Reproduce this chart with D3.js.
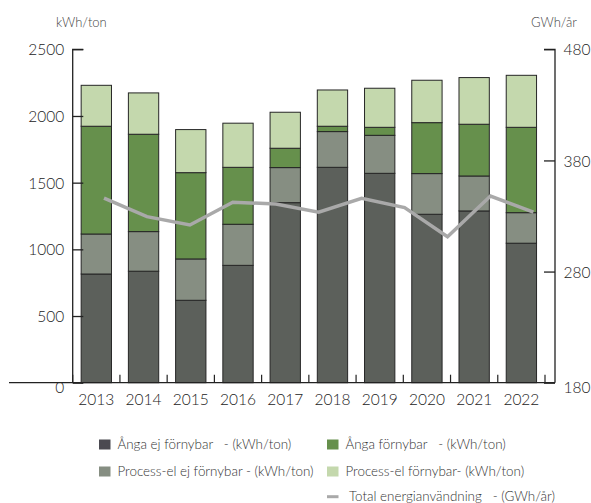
<!DOCTYPE html>
<html>
<head>
<meta charset="utf-8">
<script src="https://cdn.jsdelivr.net/npm/d3@7"></script>
<style>
  body { margin: 0; background: #fff; }
  svg text { font-family: Lato, "Open Sans", sans-serif; white-space: pre; font-weight: 300; }
</style>
</head>
<body>
<svg id="chart" width="591" height="503"></svg>
<script>
const years = ["2013","2014","2015","2016","2017","2018","2019","2020","2021","2022"];
const angaEj        = [815, 836, 618, 880, 1350, 1615, 1570, 1263, 1288, 1046];
const processElEj   = [300, 297, 310, 308,  263,  268,  285,  305,  262,  229];
const angaFornybar  = [808, 730, 647, 427,  145,   40,   60,  382,  388,  640];
const processElForn = [307, 310, 323, 331,  270,  272,  293,  318,  350,  390];
const lineSteps     = [0,1,2,3,4,5,6,7,8,9,10];
const totalEnergi   = [346, 329.4, 321.9, 342.4, 340.8, 333.4, 346, 337.5, 311.4, 348, 333.4];
const leftTicks  = [0, 500, 1000, 1500, 2000, 2500];
const rightTicks = [180, 280, 380, 480];

const seriesKeys = ["angaEj","processElEj","angaFornybar","processElForn"];
const seriesNames = {
  angaEj: "Ånga ej förnybar   - (kWh/ton)",
  processElEj: "Process-el ej förnybar - (kWh/ton)",
  angaFornybar: "Ånga förnybar   - (kWh/ton)",
  processElForn: "Process-el förnybar- (kWh/ton)"
};
const colors = {
  angaEj: "#5c605b",
  processElEj: "#868e82",
  angaFornybar: "#66904c",
  processElForn: "#c4d8ad"
};
const legendColors = {
  angaEj: "#4b4a51",
  processElEj: "#868e82",
  angaFornybar: "#66904c",
  processElForn: "#c4d8ad"
};
const lineColor = "#a9a9a9";

const table = years.map((yr, i) => ({
  year: yr,
  angaEj: angaEj[i],
  processElEj: processElEj[i],
  angaFornybar: angaFornybar[i],
  processElForn: processElForn[i]
}));

const svg = d3.select("#chart");
const yTop = 49.3, yBottom = 382.7;
const x = d3.scaleBand().domain(years).range([72.7, 545]).paddingInner(0.358).paddingOuter(0.179);
const y = d3.scaleLinear().domain([0, 2500]).range([yBottom, yTop]);
const y2 = d3.scaleLinear().domain([180, 480]).range([yBottom, yTop]);
const xl = d3.scalePoint().domain(lineSteps).range([104, 533.4]);

const stack = d3.stack().keys(seriesKeys)(table);

// bars
svg.append("g").selectAll("g").data(stack).join("g")
  .attr("fill", d => colors[d.key])
  .selectAll("rect").data(d => d).join("rect")
  .attr("x", d => x(d.data.year))
  .attr("y", d => y(d[1]))
  .attr("width", x.bandwidth())
  .attr("height", d => y(d[0]) - y(d[1]))
  .attr("stroke", "#262626")
  .attr("stroke-width", 1);

// x ticks (band boundaries)
const halfGap = x.step() * x.paddingInner() / 2;
const boundaries = years.map(yr => x(yr) - halfGap).concat([x(years[years.length-1]) + x.bandwidth() + halfGap]);
svg.append("g").selectAll("line").data(boundaries).join("line")
  .attr("x1", d => d).attr("x2", d => d)
  .attr("y1", yBottom).attr("y2", yBottom - 8)
  .attr("stroke", "#222").attr("stroke-width", 1.2);

// x labels
svg.append("g").selectAll("text").data(years).join("text")
  .attr("x", d => x(d) + x.bandwidth() / 2)
  .attr("y", 405)
  .attr("text-anchor", "middle")
  .attr("font-size", 15.5)
  .attr("fill", "#222")
  .text(d => d);

// left axis
const leftAxis = d3.axisRight(y).tickValues(leftTicks).tickSize(10.6).tickFormat(d3.format("d"));
const gl = svg.append("g").attr("transform", "translate(72.7,0)").call(leftAxis);
gl.select(".domain").attr("d", `M10.6,${yTop}H0V${yBottom}`).attr("stroke", "#222").attr("stroke-width", 1.3);
gl.selectAll(".tick line").attr("stroke", "#222").attr("stroke-width", 1.3);
gl.selectAll(".tick text").attr("x", -8.5).attr("text-anchor", "end").attr("dy", "0.36em")
  .attr("font-size", 15.5).attr("fill", "#222").style("font-family", "Lato, sans-serif");
gl.selectAll(".tick").filter(d => d === 0).select("text").attr("dy", "0.62em");

// right axis
const rightAxis = d3.axisLeft(y2).tickValues(rightTicks).tickSize(11);
const gr = svg.append("g").attr("transform", "translate(555,0)").call(rightAxis);
gr.select(".domain").attr("d", `M-11,${yTop}H0V${yBottom}`).attr("stroke", "#222").attr("stroke-width", 1.3);
gr.selectAll(".tick line").attr("stroke", "#222").attr("stroke-width", 1.3);
gr.selectAll(".tick text").attr("x", 8.5).attr("text-anchor", "start").attr("dy", "0.36em")
  .attr("font-size", 15.5).attr("fill", "#222").style("font-family", "Lato, sans-serif");
gr.selectAll(".tick").filter(d => d === 180).select("text").attr("dy", "0.62em");

// baseline
svg.append("line").attr("x1", 9).attr("x2", 555).attr("y1", yBottom).attr("y2", yBottom)
  .attr("stroke", "#222").attr("stroke-width", 1.3);

// line series
svg.append("path").datum(totalEnergi)
  .attr("fill", "none").attr("stroke", lineColor).attr("stroke-width", 3.5)
  .attr("stroke-linejoin", "miter")
  .attr("d", d3.line().x((d, i) => xl(lineSteps[i])).y(d => y2(d)));

// axis titles
svg.append("text").attr("x", 56).attr("y", 27).attr("font-size", 13).attr("fill", "#444").text("kWh/ton");
svg.append("text").attr("x", 531).attr("y", 27).attr("font-size", 13).attr("fill", "#444").text("GWh/år");

// legend
const legendItems = [
  {key: "angaEj", col: 0, row: 0},
  {key: "angaFornybar", col: 1, row: 0},
  {key: "processElEj", col: 0, row: 1},
  {key: "processElForn", col: 1, row: 1}
];
const colX = [99, 327], rowY = [444.5, 471.5, 496.7];
const lg = svg.append("g");
legendItems.forEach(it => {
  lg.append("rect").attr("x", colX[it.col]).attr("y", rowY[it.row] - 5).attr("width", 11.5).attr("height", 10)
    .attr("fill", legendColors[it.key]);
  lg.append("text").attr("x", colX[it.col] + 18.5).attr("y", rowY[it.row]).attr("dy", "0.35em")
    .attr("font-size", 13.4).attr("fill", "#333").text(seriesNames[it.key]);
});
lg.append("line").attr("x1", colX[1]).attr("x2", colX[1] + 11.5).attr("y1", rowY[2]).attr("y2", rowY[2])
  .attr("stroke", lineColor).attr("stroke-width", 3);
lg.append("text").attr("x", colX[1] + 22).attr("y", rowY[2]).attr("dy", "0.35em")
  .attr("font-size", 13.4).attr("fill", "#333").text("Total energianvändning   - (GWh/år)");
</script>
</body>
</html>
